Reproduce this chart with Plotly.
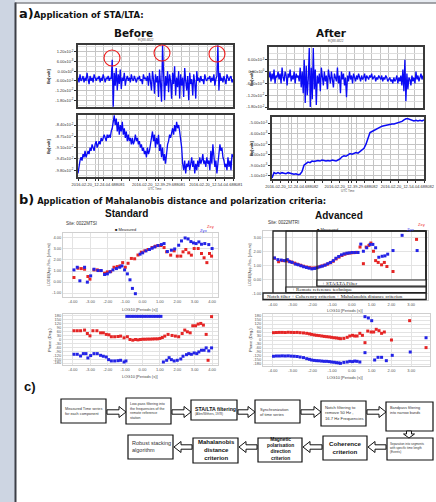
import plotly.graph_objects as go

W, H = 436, 502
def px(x): return x / W
def py(y): return 1 - y / H

# ---------------- DATA ----------------
# a) Before, Bx (units 1e-3 V)
before_bx = [-4,-7,-2,-6,-5,-3,-7,-4,-6,-1,
             -5,-8,-3,-6,-4,-7,-2,-5,-6,-4,
             -5,-3,-7,-4,-6,-2,-5,-7,-4,-5,
             -3,-6,-4,-5,7,-22,-1,-9,2,-12,
             -2,-8,1,-11,-4,-6,-1,-9,-5,-3,
             -6,-4,-7,-2,-5,-6,-3,-5,-7,-4,
             -5,-3,-6,-5,-8,-2,-5,-4,-6,-3,
             -9,-1,-6,-12,0,-5,-14,-2,-7,-3,
             -16,1,-8,-19,16,-2,-18,-3,-9,0,
             -13,-2,-6,-17,-1,-8,3,-15,-4,-10,
             0,-17,-2,-9,-4,-16,2,-6,-12,-3,
             -18,-1,-8,-5,-15,-2,-7,-17,0,-6,
             -4,-7,-3,-6,-5,-8,-2,-5,-6,-4,
             -5,-3,-7,-4,-6,-2,-9,-5,-3,16,
             -12,-1,-6,-4,-7,-3,-5,-8,-2,-5,
             -6,-4,-3,-7,-5]
# a) Before, By (units 1e-2 V)
before_by = [-9.9,-9.6,-9.5,-9.4,-9.5,-9.3,-9.4,-9.2,-9.4,-9.3,
             -9.2,-9.3,-9.1,-9.2,-9.0,-9.1,-9.2,-9.0,-8.9,-9.1,
             -9.0,-8.9,-9.0,-8.8,-8.9,-8.8,-8.7,-8.8,-8.9,-8.7,
             -8.8,-8.7,-8.8,-8.6,-8.5,-8.3,-8.1,-8.4,-8.2,-8.6,
             -8.3,-8.7,-8.4,-8.6,-8.3,-8.7,-8.5,-8.8,-8.6,-8.9,
             -8.7,-8.9,-8.8,-9.0,-8.8,-9.0,-8.9,-8.7,-8.9,-8.8,
             -9.0,-8.9,-9.1,-9.0,-9.2,-9.1,-9.3,-9.2,-9.4,-9.1,
             -9.3,-9.2,-9.0,-8.8,-8.6,-8.9,-8.7,-9.1,-8.8,-9.0,
             -8.7,-9.2,-9.0,-9.4,-9.1,-9.5,-9.3,-9.6,-9.2,-9.0,
             -8.9,-8.7,-8.8,-8.6,-8.5,-8.7,-8.4,-8.6,-8.3,-8.5,
             -8.4,-8.6,-8.8,-9.1,-9.6,-9.8,-9.5,-9.9,-9.6,-9.7,
             -9.5,-9.8,-9.6,-9.4,-9.7,-9.5,-9.9,-9.6,-9.8,-9.5,
             -9.7,-9.4,-9.6,-9.5,-9.3,-9.6,-9.5,-9.7,-9.4,-9.6,
             -9.5,-9.8,-9.2,-9.6,-9.0,-9.4,-9.7,-9.5,-9.9,-9.6,
             -9.3,-9.0,-9.2,-9.1,-9.4,-9.5,-9.7,-9.6,-9.8,-9.4,
             -9.7,-9.5,-9.8,-9.3,-9.4]
# a) After, Bx (units 1e-3 V)
after_bx = [-3,0,-5,-1,-4,1,-6,-2,-3,0,
            -4,-1,-6,2,-3,-5,0,-2,-7,-1,
            -3,1,-5,-2,-4,0,-6,-1,-3,-2,
            -5,2,-8,0,-11,6,-16,3,-12,-4,
            12,-18,2,-14,12,-9,1,-17,-2,-6,
            -1,-10,2,-4,-7,0,-5,-2,-9,1,
            -3,-6,0,-4,-8,-1,-3,-5,2,-6,
            -2,-11,0,-4,-1,-7,-3,-13,-2,-5,
            0,-4,-2,-6,-1,-3,-5,-2,-4,-1,
            -3,-5,-2,-4,-3,-1,-5,-2,-3,-4,
            -2,-3,-1,-4,-3,-2,-5,-3,-4,-2,
            -3,-4,-2,-5,-3,-4,-2,-3,-5,-4,
            -3,-5,-4,-6,-3,-5,-4,-2,-6,-3,
            -5,-2,-7,1,-10,6,-15,-1,-9,-3,
            -4,-7,-2,-5,-3,-6,0,-4,-2,-5,
            -3,-1,-4,-2]
# a) After, By
after_by = [-10.2,-9.7,-9.8,-9.7,-9.8,-9.7,-9.75,-9.8,-9.7,-9.75,
            -9.8,-9.85,-9.8,-9.9,-9.85,-9.6,-9.0,-8.8,-8.7,-8.75,
            -8.6,-8.65,-8.6,-8.55,-8.6,-8.5,-8.55,-8.6,-8.55,-8.6,
            -8.5,-8.55,-8.6,-8.5,-8.4,-8.2,-8.1,-8.15,-8.0,-7.9,
            -7.95,-7.85,-7.8,-7.85,-7.7,-7.6,-7.4,-7.0,-6.5,-5.9,
            -5.8,-5.7,-5.6,-5.45,-5.35,-5.3,-5.25,-5.2,-5.2,-5.15,
            -5.1,-5.1,-5.05,-5.0,-4.95,-4.85,-4.7,-4.6,-4.6,-4.65,
            -4.75,-4.8,-4.75,-4.8,-4.75,-4.8,-4.7]

time_ticks_before = ["2016-02-20_12-24-04.688081", "2016-02-20_12-39-29.688081", "2016-02-20_12-54-04.688081"]
time_ticks_after = ["2016-02-20_12-24-04.688082", "2016-02-20_12-39-29.688082", "2016-02-20_12-54-04.688082"]
bx_before_ticks = ["1.20x10<sup>-2</sup>", "6.00x10<sup>-3</sup>", "0.00x10<sup>0</sup>",
                   "-6.00x10<sup>-3</sup>", "-1.20x10<sup>-2</sup>", "-1.80x10<sup>-2</sup>"]
by_before_ticks = ["-8.40x10<sup>-2</sup>", "-8.75x10<sup>-2</sup>", "-9.10x10<sup>-2</sup>",
                   "-9.45x10<sup>-2</sup>", "-9.80x10<sup>-2</sup>"]
bx_after_ticks = ["6.00x10<sup>-3</sup>", "0.00x10<sup>0</sup>", "-6.00x10<sup>-3</sup>",
                  "-1.20x10<sup>-2</sup>", "-1.80x10<sup>-2</sup>"]
by_after_ticks = ["-5.00x10<sup>-3</sup>", "-6.00x10<sup>-3</sup>", "-7.00x10<sup>-3</sup>",
                  "-8.00x10<sup>-3</sup>", "-9.00x10<sup>-3</sup>", "-1.00x10<sup>-2</sup>"]

# b) Standard: apparent resistivity
std_rho_blue_x = [-3.94,-3.75,-3.6,-3.33,-3.17,-2.98,-2.79,-2.56,-2.37,-2.18,-2.02,-1.87,-1.7,-1.5,-1.31,-1.18,
                  -1.03,-0.87,-0.72,-0.58,-0.41,-0.14,0.01,0.2,0.4,0.55,0.7,0.89,1.09,1.24,1.43,1.66,1.85,
                  2.08,2.24,2.45,2.62,2.78,2.93,3.08,3.24,3.39,3.58,3.81,4.0]
std_rho_blue = [1.10,1.34,0.11,1.34,-0.01,0.56,1.16,1.04,1.04,0.68,0.74,0.92,1.10,1.22,1.34,1.46,
                1.10,0.74,0.20,-0.58,-1.06,2.53,2.65,2.83,2.95,3.07,3.19,3.31,3.40,3.49,2.77,2.89,3.0,
                3.34,3.73,4.0,3.91,3.67,3.55,3.49,3.64,3.43,3.49,3.40,3.04]
std_rho_red_x = [-3.94,-3.71,-3.52,-3.33,-3.14,-3.02,-2.79,-2.6,-2.41,-2.18,-2.02,-1.83,-1.64,-1.45,-1.29,-1.14,
                 -0.99,-0.83,-0.64,-0.45,-0.26,-0.07,0.13,0.32,0.55,0.74,0.89,1.05,1.24,1.39,1.62,1.82,
                 2.0,2.2,2.33,2.49,2.66,2.81,2.97,3.2,3.39,3.54,3.7,3.85,3.97]
std_rho_red = [0.41,1.25,1.22,1.16,0.50,0.26,1.10,1.10,1.04,0.80,0.92,0.95,1.34,1.40,1.46,1.76,
               1.34,1.70,2.14,2.11,2.45,2.71,2.83,2.95,3.13,3.25,3.31,3.31,3.13,2.74,2.44,2.83,
               2.35,2.35,2.74,2.95,2.65,2.44,3.04,3.04,2.59,2.20,1.76,2.59,2.35]
# b) Standard: phase
std_ph_red_x = [-3.94,-3.75,-3.56,-3.33,-3.17,-3.02,-2.85,-2.62,-2.41,-2.25,-2.08,-1.93,-1.79,-1.6,-1.41,-1.26,
                -1.06,-0.87,-0.72,-0.56,-0.4,-0.26,-0.12,0.02,0.16,0.3,0.44,0.58,0.72,0.86,1.0,1.14,
                1.28,1.47,1.7,1.89,2.08,2.28,2.43,2.58,2.74,2.89,3.05,3.2,3.35,3.5,3.66,3.77,3.97]
std_ph_red = [67,67,67,72,46,28,67,67,51,51,39,36,21,21,23,26,
              13,21,0,-5,0,-3,0,2,2,3,3,4,5,5,8,15,
              26,39,31,26,21,46,72,59,51,105,105,118,123,110,39,-159,175]
std_ph_blue_x = [-3.94,-3.75,-3.56,-3.4,-3.25,-3.14,-2.98,-2.79,-2.6,-2.41,-2.25,-2.08,-1.95,-1.79,-1.6,-1.41,
                 -1.26,-1.06,-0.95,-0.9,-0.76,-0.62,-0.48,-0.34,-0.2,-0.06,0.08,0.22,0.36,0.5,0.64,0.78,
                 0.92,1.06,1.2,1.39,1.53,1.66,1.82,2.0,2.2,2.33,2.53,2.66,2.81,2.97,3.12,3.24,3.39,
                 3.54,3.66,3.81,3.97]
std_ph_blue = [-113,-113,-126,-108,-108,-141,-123,-108,-108,-121,-128,-134,-154,-164,-164,-162,
               -159,-172,-164,177,177,177,177,177,177,177,177,177,177,177,177,177,
               177,177,-172,-159,-139,-154,-164,-159,-149,-128,-116,-108,-113,-103,-108,-95,-82,
               -82,-64,-87,-64]

# b) Advanced: apparent resistivity
adv_rho_blue_x = [-3.92,-3.75,-3.58,-3.41,-3.27,-3.15,-3.02,-2.85,-2.71,-2.57,-2.44,-2.3,-2.17,-2.03,-1.89,-1.76,
                  -1.62,-1.49,-1.35,-1.22,-1.08,-0.94,-0.81,-0.67,-0.53,-0.4,-0.26,-0.13,0.01,0.16,0.31,0.45,
                  0.58,0.75,0.92,1.06,1.2,1.36,1.53,1.67,1.81,2.08,2.54,3.3]
adv_rho_blue = [1.57,1.45,1.42,1.38,1.45,1.30,1.25,1.13,1.08,1.01,0.94,0.89,0.84,0.79,0.82,0.87,
                0.94,0.99,1.06,1.16,1.25,1.38,1.55,1.67,1.79,1.86,1.91,1.93,1.96,1.96,1.96,2.56,
                2.05,2.30,2.54,2.54,2.30,1.62,1.69,1.72,1.84,2.10,3.19,2.10]
adv_rho_red_x = [-3.92,-3.71,-3.52,-3.35,-3.2,-3.05,-2.9,-2.75,-2.6,-2.45,-2.3,-2.15,-2.0,-1.85,-1.7,-1.55,
                 -1.4,-1.25,-1.1,-0.95,-0.8,-0.65,-0.5,-0.35,-0.2,-0.05,0.1,0.25,0.41,0.58,0.72,0.86,
                 0.96,1.09,1.2,1.33,1.5,1.64,1.77,2.08,3.27]
adv_rho_red = [1.55,1.30,1.38,1.36,1.35,1.28,1.20,1.12,1.05,0.98,0.92,0.88,0.85,0.86,0.92,0.99,
               1.05,1.12,1.22,1.33,1.50,1.63,1.75,1.84,1.90,1.93,1.95,1.97,2.35,1.16,2.35,2.47,
               2.64,2.05,1.38,1.25,1.08,1.25,0.96,0.60,2.90]
# b) Advanced: phase
adv_ph_red_x = [-3.97,-3.82,-3.67,-3.52,-3.37,-3.22,-3.07,-2.92,-2.77,-2.62,-2.45,-2.29,-2.15,-2.04,-1.91,-1.79,
                -1.66,-1.53,-1.4,-1.28,-1.15,-1.03,-0.9,-0.78,-0.66,-0.58,-0.41,-0.24,-0.11,0.03,0.14,0.26,
                0.4,0.53,0.66,0.8,0.97,1.1,1.23,1.37,1.5,1.64,2.0,2.92,3.75]
adv_ph_red = [55,56,57,57,56,58,57,56,57,55,53,50,46,42,38,35,
              33,30,27,25,23,20,17,15,12,10,12,20,30,35,30,30,
              50,35,-20,67,60,60,80,70,50,60,0,145,-57]
adv_ph_blue_x = [-3.97,-3.82,-3.67,-3.52,-3.37,-3.22,-3.07,-2.92,-2.77,-2.62,-2.45,-2.29,-2.15,-2.04,-1.91,-1.79,
                 -1.66,-1.53,-1.4,-1.28,-1.15,-1.03,-0.9,-0.78,-0.66,-0.58,-0.41,-0.24,-0.11,0.03,0.14,0.26,
                 0.4,0.66,0.66,0.83,1.0,1.15,1.32,1.5,1.74,2.04,2.95,3.75]
adv_ph_blue = [-122,-120,-120,-119,-120,-119,-121,-122,-124,-128,-132,-140,-145,-150,-153,-155,
               -156,-158,-160,-160,-162,-165,-167,-170,-172,-175,-168,-165,-160,-162,-158,-160,
               -165,175,-95,165,145,-150,-130,-130,-155,-115,-90,17]

log_ticks_std = [-4, -3, -2, -1, 0, 1, 2, 3, 4]
log_ticks_adv = [-4, -3, -2, -1, 0, 1, 2, 3]
phase_ticks = [180, 150, 120, 90, 60, 30, 0, -30, -60, -90, -120, -150, -180]

# ---------------- FIGURE ----------------
fig = go.Figure()
BLUE = "#0a0af5"
RED_M = "#e52525"
BLUE_M = "#2323e6"

def ax(i, s):
    return s if i == 1 else f"{s}{i}"

def add_line(i, vals, width=1.3):
    fig.add_trace(go.Scatter(x=list(range(len(vals))), y=vals, mode="lines",
                             line=dict(color=BLUE, width=width),
                             xaxis=ax(i, "x"), yaxis=ax(i, "y"), showlegend=False, hoverinfo="skip"))

def add_pts(i, xs, ys, color):
    fig.add_trace(go.Scatter(x=xs, y=ys, mode="markers",
                             marker=dict(symbol="square", size=3, color=color, line=dict(width=0)),
                             xaxis=ax(i, "x"), yaxis=ax(i, "y"), showlegend=False, hoverinfo="skip"))

add_line(1, before_bx)
add_line(2, before_by)
add_line(3, after_bx)
add_line(4, after_by, 1.5)
add_pts(5, std_rho_red_x, std_rho_red, RED_M)
add_pts(5, std_rho_blue_x, std_rho_blue, BLUE_M)
add_pts(6, std_ph_red_x, std_ph_red, RED_M)
add_pts(6, std_ph_blue_x, std_ph_blue, BLUE_M)
add_pts(7, adv_rho_red_x, adv_rho_red, RED_M)
add_pts(7, adv_rho_blue_x, adv_rho_blue, BLUE_M)
add_pts(8, adv_ph_red_x, adv_ph_red, RED_M)
add_pts(8, adv_ph_blue_x, adv_ph_blue, BLUE_M)

boxes = {
    1: ((78, 233), (45, 107)),
    2: ((78, 233), (115, 177)),
    3: ((269, 423), (47, 108)),
    4: ((272, 424), (117, 179)),
    5: ((63, 218), (233, 297)),
    6: ((63, 218), (314, 365)),
    7: ((263, 428), (231, 300)),
    8: ((263, 430), (314, 366)),
}

layout = dict(width=W, height=H, margin=dict(l=0, r=0, t=0, b=0), autosize=False,
              template="none", paper_bgcolor="white", plot_bgcolor="white", showlegend=False,
              font=dict(family="Liberation Sans, Arial", color="#222"))

ts_grid = "#c4c4c4"
tick_font = dict(size=4, color="#333", family="Liberation Sans, Arial")

def ts_axes(i, n, yr, yvals, ytext, xlabels=None):
    (x0, x1), (y0, y1) = boxes[i]
    xa = dict(domain=[px(x0), px(x1)], anchor=ax(i, "y"), range=[0, n - 1],
              showline=True, mirror=True, linecolor="#3a3a3a", linewidth=1.6,
              showgrid=True, gridcolor=ts_grid, gridwidth=1, zeroline=False, fixedrange=True)
    if xlabels is None:
        xa.update(showticklabels=False, tickmode="array", tickvals=[], ticks="",
                  minor=dict(tickmode="linear", tick0=0, dtick=(n - 1) / 18, showgrid=True,
                             gridcolor=ts_grid, ticks=""))
    else:
        xa.update(tickmode="array", tickvals=[(n - 1) * 0.13, (n - 1) * 0.52, (n - 1) * 0.89],
                  ticktext=xlabels, tickfont=dict(size=4, color="#333"), ticks="outside", ticklen=2,
                  tickcolor="#333",
                  minor=dict(tickmode="linear", tick0=0, dtick=(n - 1) / 18, showgrid=True,
                             gridcolor=ts_grid, ticks="outside", ticklen=2, tickcolor="#333"))
    ya = dict(domain=[py(y1), py(y0)], anchor=ax(i, "x"), range=yr,
              tickmode="array", tickvals=yvals, ticktext=ytext, tickfont=tick_font,
              showline=True, mirror=True, linecolor="#3a3a3a", linewidth=1.6,
              showgrid=True, gridcolor=ts_grid, zeroline=False, ticks="outside", ticklen=2,
              tickcolor="#333", fixedrange=True,
              minor=dict(tickmode="linear", dtick=(yvals[0] - yvals[1]) / 2, showgrid=True,
                         gridcolor="#dedede"))
    layout["x" + ("axis" if i == 1 else f"axis{i}")] = xa
    layout["y" + ("axis" if i == 1 else f"axis{i}")] = ya

ts_axes(1, len(before_bx), [-22.2, 16.2], [12, 6, 0, -6, -12, -18], bx_before_ticks)
ts_axes(2, len(before_by), [-10.01, -8.09], [-8.40, -8.75, -9.10, -9.45, -9.80], by_before_ticks, time_ticks_before)
ts_axes(3, len(after_bx), [-18.5, 12.5], [6, 0, -6, -12, -18], bx_after_ticks)
ts_axes(4, len(after_by), [-10.3, -4.43], [-5, -6, -7, -8, -9, -10], by_after_ticks, time_ticks_after)

mt_grid = "#e3e3e3"
mt_font = dict(size=4, color="#555", family="Liberation Sans, Arial")

def mt_axes(i, xr, xt, yr, yt, yfmt):
    (x0, x1), (y0, y1) = boxes[i]
    xa = dict(domain=[px(x0), px(x1)], anchor=ax(i, "y"), range=xr, tickmode="array",
              tickvals=xt, ticktext=[f"{v:.2f}" for v in xt], tickfont=mt_font,
              showline=True, mirror=True, linecolor="#cfcfcf", linewidth=1,
              showgrid=True, gridcolor=mt_grid, zeroline=False, ticks="", fixedrange=True)
    ya = dict(domain=[py(y1), py(y0)], anchor=ax(i, "x"), range=yr, tickmode="array",
              tickvals=yt, ticktext=[yfmt(v) for v in yt], tickfont=mt_font,
              showline=True, mirror=True, linecolor="#cfcfcf", linewidth=1,
              showgrid=True, gridcolor=mt_grid, zeroline=False, ticks="", fixedrange=True)
    layout["x" + f"axis{i}"] = xa
    layout["y" + f"axis{i}"] = ya

mt_axes(5, [-4.57, 4.34], log_ticks_std, [-1.36, 4.45], [-1, 0, 1, 2, 3, 4], lambda v: f"{v:.2f}")
mt_axes(6, [-4.57, 4.34], log_ticks_std, [-195, 195], phase_ticks, lambda v: f"{v}")
mt_axes(7, [-4.5, 3.85], log_ticks_adv, [-1.44, 3.5], [-1, 0, 1, 2, 3], lambda v: f"{v:.2f}")
mt_axes(8, [-4.5, 3.95], log_ticks_adv, [-195, 195], phase_ticks, lambda v: f"{v}")

fig.update_layout(**layout)

# ---------------- SHAPES ----------------
shapes = []
def rect(x0, y0, x1, y1, line="#000", width=1, fill=None, layer="above"):
    d = dict(type="rect", xref="paper", yref="paper", x0=px(x0), x1=px(x1), y0=py(y1), y1=py(y0),
             line=dict(color=line, width=width), layer=layer)
    if fill:
        d["fillcolor"] = fill
    shapes.append(d)

# background frame
shapes.append(dict(type="rect", xref="paper", yref="paper", x0=0, x1=px(15), y0=0, y1=1,
                   fillcolor="#cdd5e2", line=dict(width=0), layer="below"))
shapes.append(dict(type="rect", xref="paper", yref="paper", x0=px(15), x1=1, y0=py(2.5), y1=1,
                   fillcolor="#e8ecf2", line=dict(width=0), layer="below"))
shapes.append(dict(type="line", xref="paper", yref="paper", x0=px(15.5), x1=px(15.5), y0=0, y1=py(2.5),
                   line=dict(color="#3c3f46", width=2)))
shapes.append(dict(type="line", xref="paper", yref="paper", x0=px(15), x1=1, y0=py(3), y1=py(3),
                   line=dict(color="#4a4d55", width=1)))

# red circles on spikes
for cx, cy in [(112, 58), (162, 53), (217, 54)]:
    shapes.append(dict(type="circle", xref="paper", yref="paper", x0=px(cx - 8), x1=px(cx + 8),
                       y0=py(cy + 8), y1=py(cy - 8), line=dict(color="#ee1c1c", width=1.1)))

# Advanced processing boxes
rect(273, 231, 426, 299, line="#222", width=1.3)
rect(286, 231, 426, 292, line="#222", width=1.2)
rect(317, 231, 426, 286, line="#222", width=1.2)
rect(317, 280, 426, 286, line="#222", width=1.2, fill="white")
rect(286, 287, 426, 292.5, line="#222", width=1.2, fill="white")
rect(263, 293, 426, 299.5, line="#222", width=1.3, fill="white")

# flowchart boxes
row1 = [(61, 399, 106, 423), (126, 398, 171, 424), (191, 400, 237, 420),
        (255, 400, 300, 423), (321, 401, 366, 426), (386, 402, 433, 431)]
row2 = [(387, 438, 433, 460), (323, 436, 367, 460), (258, 438, 302, 462),
        (193, 438, 238, 463), (128, 435, 173, 459)]
for b in row1 + row2:
    rect(*b, line="#111", width=1.2, fill="white")

def harrow(xa, xb, yc, h=2.2, Hh=5.5, L=7):
    d = 1 if xb > xa else -1
    xm = xb - d * L
    pts = [(xa, yc - h), (xm, yc - h), (xm, yc - Hh), (xb, yc), (xm, yc + Hh), (xm, yc + h), (xa, yc + h)]
    return "M " + " L ".join(f"{px(x):.5f},{py(y):.5f}" for x, y in pts) + " Z"

def varrow(xc, ya, yb, h=2.5, Hh=5.5, L=4):
    ym = yb - L
    pts = [(xc - h, ya), (xc - h, ym), (xc - Hh, ym), (xc, yb), (xc + Hh, ym), (xc + h, ym), (xc + h, ya)]
    return "M " + " L ".join(f"{px(x):.5f},{py(y):.5f}" for x, y in pts) + " Z"

for xa_, xb_ in [(107, 126), (172, 191), (238, 255), (301, 321), (367, 386)]:
    shapes.append(dict(type="path", xref="paper", yref="paper", path=harrow(xa_, xb_, 412),
                       line=dict(color="#111", width=1), fillcolor="white"))
for xa_, xb_ in [(386, 368), (322, 303), (257, 239), (192, 174)]:
    shapes.append(dict(type="path", xref="paper", yref="paper", path=harrow(xa_, xb_, 447),
                       line=dict(color="#111", width=1), fillcolor="white"))
shapes.append(dict(type="path", xref="paper", yref="paper", path=varrow(409, 431, 438),
                   line=dict(color="#111", width=1), fillcolor="white"))

fig.update_layout(shapes=shapes)

# ---------------- TEXT ----------------
ann = []
def text(x, y, s, size=5, color="#111", family="Liberation Sans, Arial", xanchor="left",
         yanchor="middle", align="left", angle=0):
    ann.append(dict(xref="paper", yref="paper", x=px(x), y=py(y), text=s, showarrow=False,
                    font=dict(size=size, color=color, family=family), xanchor=xanchor,
                    yanchor=yanchor, align=align, textangle=angle))

V = "DejaVu Sans, Verdana"
text(17, 14, "<b><span style='font-size:13px'>a)</span>Application of STA/LTA:</b>", 8.5, family=V)
text(133, 33, "<b>Before</b>", 10.5, family=V, xanchor="center")
text(331, 33, "<b>After</b>", 10.5, family=V, xanchor="center")
text(146, 40, "EQ88-6822", 3, color="#555", xanchor="center")
text(336, 41, "EQ88-6822", 3, color="#555", xanchor="center")
text(49, 76, "<b>Bx[volt]</b>", 4, xanchor="center", angle=-90)
text(49, 146, "<b>By[volt]</b>", 4, xanchor="center", angle=-90)
text(252, 78, "<b>Bx[volt]</b>", 4, xanchor="center", angle=-90)
text(252, 148, "<b>By[volt]</b>", 4, xanchor="center", angle=-90)
text(155, 189, "UTC Time", 3, color="#555", xanchor="center")
text(348, 191, "UTC Time", 3, color="#555", xanchor="center")

text(17, 199, "<b><span style='font-size:13px'>b)</span> Application of Mahalanobis distance and polarization criteria:</b>",
     8.3, family=V)
text(127, 213, "<b>Standard</b>", 10, xanchor="center")
text(64, 223, "Site: 0022MTSI", 4.5, color="#333")
text(125, 229, "■ Measured", 4, color="#222", xanchor="center")
text(211, 226, "Zxy", 4.2, color="#ee3030", xanchor="center")
text(204, 230, "Zyx", 4.2, color="#3030ee", xanchor="center")
text(49, 265, "LOG10(App. Res. (ohm.m))", 3.5, color="#444", xanchor="center", angle=-90)
text(140, 309, "LOG10 [Periods (s)]", 4, color="#444", xanchor="center")
text(49, 340, "Phase (Deg.)", 4, color="#444", xanchor="center", angle=-90)
text(140, 376, "LOG10 [Periods (s)]", 4, color="#444", xanchor="center")

text(339, 215, "<b>Advanced</b>", 10, xanchor="center")
text(266, 222, "Site: 0022MTRI", 4.5, color="#333")
text(327, 229, "■ Measured", 4, color="#222", xanchor="center")
text(422, 224, "Zxy", 4.2, color="#ee3030", xanchor="center")
text(411, 229, "Zyx", 4.2, color="#3030ee", xanchor="center")
text(250, 265, "LOG10(App. Res. (ohm.m))", 3.5, color="#444", xanchor="center", angle=-90)
text(345, 310, "LOG10 [Periods (s)]", 4, color="#444", xanchor="center")
text(250, 340, "Phase (Deg.)", 4, color="#444", xanchor="center", angle=-90)
text(345, 377, "LOG10 [Periods (s)]", 4, color="#444", xanchor="center")
S = "Liberation Serif, Times New Roman"
text(320, 283, "+ STA/LTA Filter", 5, family=S)
text(290, 289.8, "+ Remote reference technique", 5, family=S)
text(265, 296.3, "Notch filter + Coherency criterion + Mahalanobis distance criterion", 5, family=S)

text(22, 386, "<b>c)</b>", 13, family="Liberation Sans, Arial")
text(62.5, 411, "Measured Time series<br>for each component", 3.8, color="#333")
text(127.5, 411, "Low-pass filtering into<br>the frequencies of the<br>remote reference<br>station", 3.6, color="#333")
text(192.5, 409, "<b>STA/LTA filtering</b>", 5.2)
text(193, 414, "(Allen/Withers, 1978)", 3, color="#333")
text(258, 412, "Synchronization<br>of time series", 4, color="#333")
text(322.5, 413, "Notch filtering to<br>remove 50 Hz ,<br>16.7 Hz Frequencies", 4.2, color="#333")
text(388, 404, "Bandpass filtering<br>into narrow bands", 3.8, color="#333", yanchor="top")
text(388, 448, "Separation into segments<br>with specific time length<br>(Events)", 3, color="#333")
text(345, 447, "<b>Coherence<br>criterion</b>", 6.2, xanchor="center", align="center")
text(280, 449, "<b>Magnetic<br>polarisation<br>direction<br>criterion</b>", 4.8, xanchor="center", align="center")
text(216, 450, "<b>Mahalanobis<br>distance<br>criterion</b>", 6, xanchor="center", align="center")
text(130, 446, "Robust stacking<br>algorithm", 5.5, color="#333")

fig.update_layout(annotations=ann)
fig.write_html("out.html", config={"displayModeBar": False},
               post_script="document.body.style.margin='0';document.body.style.padding='0';"
                           "document.body.style.overflow='hidden';")
